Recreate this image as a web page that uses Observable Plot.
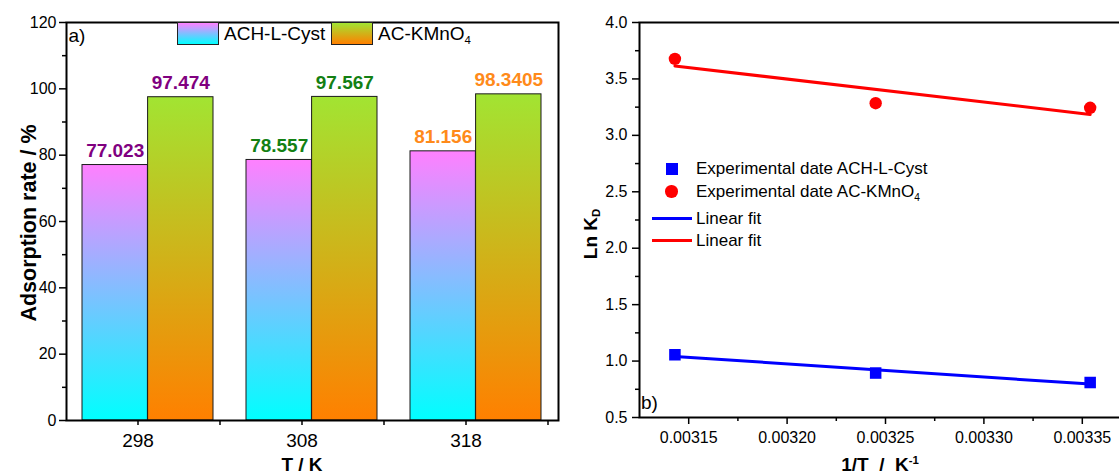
<!DOCTYPE html>
<html><head><meta charset="utf-8">
<script src="https://cdn.jsdelivr.net/npm/d3@7"></script>
<script src="https://cdn.jsdelivr.net/npm/@observablehq/plot@0.6"></script>
<style>
html,body{margin:0;padding:0;background:#fff;overflow:hidden}
#root{position:relative;width:1119px;height:474px;overflow:hidden;font-family:"Liberation Sans",Arial,sans-serif;color:#000}
#root svg{position:absolute;top:0}
.t{position:absolute;white-space:pre;line-height:1}
.sw{position:absolute;box-sizing:border-box;border:1px solid #222}
sub{font-size:0.6em;vertical-align:-0.35em;line-height:0}
sup{font-size:0.6em;vertical-align:0.6em;line-height:0}
</style></head><body><div id="root"></div>
<script>
// ---------- data ----------
const temperatures = [298, 308, 318];
const rateACH = [77.023, 78.557, 81.156];
const rateKMnO4 = [97.474, 97.567, 98.3405];
const rateLabelsACH = ["77.023", "78.557", "81.156"];
const rateLabelsKMnO4 = ["97.474", "97.567", "98.3405"];
const rateTicks = [0, 20, 40, 60, 80, 100, 120];
const rateMinorTicks = [10, 30, 50, 70, 90, 110];

const invT = [0.003354, 0.003245, 0.003143];
const lnKdACH = [0.810, 0.894, 1.056];
const lnKdKMnO4 = [3.244, 3.285, 3.678];
const invTTicks = [0.00315, 0.00320, 0.00325, 0.00330, 0.00335];
const invTMinorTicks = [0.003175, 0.003225, 0.003275, 0.003325];
const lnKdTicks = [0.5, 1.0, 1.5, 2.0, 2.5, 3.0, 3.5, 4.0];
const lnKdMinorTicks = [0.75, 1.25, 1.75, 2.25, 2.75, 3.25, 3.75];

// ---------- styles ----------
const FONT = '"Liberation Sans", Arial, sans-serif';
const groupColor = {298: "#800080", 308: "#138013", 318: "#ff8a1a"};
const gradACH = ["#ff80ff", "#00ffff"];
const gradK = ["#a2e432", "#ff8000"];

const root = document.getElementById("root");
const ns = "http://www.w3.org/2000/svg";
function addGradient(svg, id, top, bottom) {
  let defs = svg.querySelector("defs");
  if (!defs) { defs = document.createElementNS(ns, "defs"); svg.insertBefore(defs, svg.firstChild); }
  const g = document.createElementNS(ns, "linearGradient");
  g.setAttribute("id", id); g.setAttribute("x1", "0"); g.setAttribute("y1", "0"); g.setAttribute("x2", "0"); g.setAttribute("y2", "1");
  [[0, top], [1, bottom]].forEach(([o, c]) => {
    const s = document.createElementNS(ns, "stop");
    s.setAttribute("offset", o); s.setAttribute("stop-color", c); g.appendChild(s);
  });
  defs.appendChild(g);
}
function text(html, x, baseline, fs, opts = {}) {
  const d = document.createElement("div");
  d.className = "t";
  d.innerHTML = html;
  d.style.fontSize = fs + "px";
  d.style.left = x + "px";
  d.style.top = (baseline - 0.8465 * fs) + "px";
  if (opts.bold) d.style.fontWeight = "bold";
  if (opts.center) d.style.transform = "translateX(-50%)";
  root.appendChild(d);
  return d;
}
function vtext(html, cx, cy, fs) {
  const d = document.createElement("div");
  d.className = "t";
  d.innerHTML = html;
  d.style.fontSize = fs + "px";
  d.style.fontWeight = "bold";
  d.style.left = cx + "px";
  d.style.top = cy + "px";
  d.style.transform = "translate(-50%,-50%) rotate(-90deg)";
  root.appendChild(d);
}

// ---------- left panel ----------
const bars = temperatures.map((T, i) => ({T, ach: rateACH[i], k: rateKMnO4[i], achLabel: rateLabelsACH[i], kLabel: rateLabelsKMnO4[i]}));
const LW = 570, LML = 66, LMR = 12;
const step = (LW - LML - LMR) / temperatures.length;
const bw = step * 0.8;

const left = Plot.plot({
  width: LW, height: 474, marginLeft: LML, marginRight: LMR, marginTop: 22, marginBottom: 54,
  style: {fontFamily: FONT, fontSize: "16px", background: "transparent", overflow: "visible", color: "#000"},
  x: {type: "band", domain: temperatures, paddingInner: 0.2, paddingOuter: 0.1},
  y: {domain: [0, 120]},
  color: {type: "identity"},
  marks: [
    Plot.barY(bars, {x: "T", y: "ach", fill: "url(#gACH)", stroke: "#1a1a1a", strokeWidth: 1, insetRight: bw / 2}),
    Plot.barY(bars, {x: "T", y: "k", fill: "url(#gK)", stroke: "#1a1a1a", strokeWidth: 1, insetLeft: bw / 2}),
    Plot.text(bars, {x: "T", y: "ach", text: "achLabel", dx: -bw / 4, dy: -8, lineAnchor: "bottom", fill: d => groupColor[d.T], fontSize: 19, fontWeight: "bold"}),
    Plot.text(bars, {x: "T", y: "k", text: "kLabel", dx: bw / 4, dy: -8, lineAnchor: "bottom", fill: d => groupColor[d.T], fontSize: 19, fontWeight: "bold"}),
    Plot.frame({stroke: "#000", strokeWidth: 2}),
    Plot.axisY(rateTicks, {tickSize: 7, tickPadding: 3, fontSize: 16, label: null, strokeWidth: 1.5}),
    Plot.axisY(rateMinorTicks, {tickSize: 4, tickFormat: () => "", label: null, strokeWidth: 1.5}),
    Plot.axisX(temperatures, {dx: -10, tickSize: 5, tickPadding: 8, fontSize: 19, label: null, strokeWidth: 1.5}),
    Plot.axisX(temperatures, {dx: step / 2 - 10, tickSize: 5, tickFormat: () => "", label: null, strokeWidth: 1.5})
  ]
});
left.style.left = "0px";
addGradient(left, "gACH", gradACH[0], gradACH[1]);
addGradient(left, "gK", gradK[0], gradK[1]);
root.appendChild(left);

// ---------- right panel ----------
const pts = invT.map((x, i) => ({x, ach: lnKdACH[i], k: lnKdKMnO4[i]}));
const right = Plot.plot({
  width: 561, height: 474, marginLeft: 69, marginRight: 0, marginTop: 22, marginBottom: 57,
  style: {fontFamily: FONT, fontSize: "16px", background: "transparent", overflow: "visible", color: "#000"},
  x: {domain: [0.003125, 0.003375]},
  y: {domain: [0.5, 4.0]},
  marks: [
    Plot.linearRegressionY(pts, {x: "x", y: "ach", stroke: "#0000ff", strokeWidth: 3, ci: 0}),
    Plot.linearRegressionY(pts, {x: "x", y: "k", stroke: "#ff0000", strokeWidth: 3, ci: 0}),
    Plot.dot(pts, {x: "x", y: "ach", symbol: "square", r: 6.5, fill: "#0000ff"}),
    Plot.dot(pts, {x: "x", y: "k", r: 6.2, fill: "#ff0000"}),
    Plot.frame({stroke: "#000", strokeWidth: 2}),
    Plot.axisY(lnKdTicks, {tickSize: 7, tickPadding: 5, fontSize: 16, tickFormat: d3.format(".1f"), label: null, strokeWidth: 1.5}),
    Plot.axisY(lnKdMinorTicks, {tickSize: 4, tickFormat: () => "", label: null, strokeWidth: 1.5}),
    Plot.axisX(invTTicks, {tickSize: 7, tickPadding: 7, fontSize: 16, tickFormat: d3.format(".5f"), label: null, strokeWidth: 1.5}),
    Plot.axisX(invTMinorTicks, {tickSize: 4, tickFormat: () => "", label: null, strokeWidth: 1.5})
  ]
});
right.style.left = "570px";
root.appendChild(right);

// ---------- texts / legends ----------
text("a)", 68.5, 42.5, 19);
text("b)", 641, 409, 19);
text("T / K", 302, 470.7, 19, {bold: true, center: true});
text("1/T  /  K<sup>-1</sup>", 880, 471, 19, {bold: true, center: true});
vtext("Adsorption rate / %", 29.5, 222.5, 21.5);
vtext("Ln K<sub>D</sub>", 590, 234, 19);

// left legend
function swatch(x, y, w, h, c) {
  const d = document.createElement("div");
  d.className = "sw";
  Object.assign(d.style, {left: x + "px", top: y + "px", width: w + "px", height: h + "px", background: `linear-gradient(to bottom, ${c[0]}, ${c[1]})`});
  root.appendChild(d);
}
swatch(177, 22, 42, 23, gradACH);
text("ACH-L-Cyst", 224, 40.5, 19);
swatch(331, 22, 42, 23, gradK);
text("AC-KMnO<sub>4</sub>", 378, 40.5, 19);

// right legend
function shape(css) {
  const d = document.createElement("div");
  d.style.position = "absolute";
  Object.assign(d.style, css);
  root.appendChild(d);
}
shape({left: "665.5px", top: "162.5px", width: "12px", height: "12px", background: "#0000ff"});
shape({left: "665px", top: "185px", width: "12.5px", height: "12.5px", background: "#ff0000", borderRadius: "50%"});
shape({left: "651.5px", top: "216.8px", width: "40px", height: "3px", background: "#0000ff"});
shape({left: "651.5px", top: "238.5px", width: "40px", height: "3px", background: "#ff0000"});
text("Experimental date ACH-L-Cyst", 696, 174.5, 17);
text("Experimental date AC-KMnO<sub>4</sub>", 696, 197, 17);
text("Linear fit", 696, 224.4, 17);
text("Linear fit", 696, 246.5, 17);
</script></body></html>
